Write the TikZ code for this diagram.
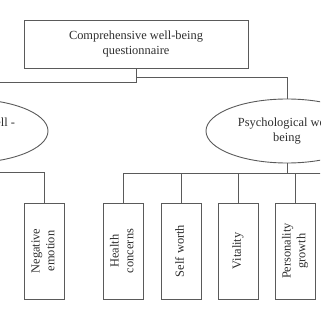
\documentclass[tikz,border=0pt]{standalone}
\usepackage{fontspec}
\setmainfont{Liberation Serif}
\usepackage{graphicx}
\usetikzlibrary{shapes.geometric}
\definecolor{linegray}{HTML}{5A5A5A}
\definecolor{textgray}{HTML}{2E2E2E}
\newcommand{\vtext}[1]{\rotatebox{90}{\begin{tabular}{@{}c@{}}#1\end{tabular}}}
\begin{document}
\begin{tikzpicture}[
    x=1pt, y=-1pt,
    every node/.style={font=\fontsize{12.4}{14.8}\selectfont, text=textgray},
    topbox/.style={rectangle, draw=linegray, line width=0.9pt, minimum width=224pt, minimum height=48pt, align=center, inner sep=0pt},
    oval/.style={ellipse, draw=linegray, line width=0.9pt, minimum width=162pt, minimum height=64pt, align=center, inner sep=0pt},
    item/.style={rectangle, draw=linegray, line width=0.9pt, minimum width=40pt, minimum height=96pt, inner sep=0pt},
    link/.style={draw=linegray, line width=0.9pt},
]
    \useasboundingbox (0,0) rectangle (320,320);
    \clip (0,0) rectangle (320,320);

    % Root
    \node[topbox] (root) at (136, 44) {Comprehensive well-being\\questionnaire};

    % Dimensions
    \node[oval] (subj) at (-33, 131) {\hspace*{12pt}Subjective well -\\being};
    \node[oval] (psy) at (287, 131) {Psychological well-\\being};

    % Sub-scales
    \node[item] (neg) at (44, 251) {\vtext{Negative\\emotion}};
    \node[item] (health) at (123, 251) {\vtext{Health\\concerns}};
    \node[item] (worth) at (181, 251) {\vtext{Self worth}};
    \node[item] (vital) at (238, 251) {\vtext{Vitality}};
    \node[item] (growth) at (295, 251) {\vtext{Personality\\growth}};
    \coordinate (more) at (340, 173);

    % Relationships
    \draw[link] (root.south) -- (136, 82) -| (subj.north);
    \draw[link] (136, 77) -| (psy.north);
    \draw[link] (subj.south) -- ++(0, 9) -| (neg.north);
    \draw[link] (psy.south) -- ++(0, 10) coordinate (hub);
    \draw[link] (health.north) |- (more);
    \draw[link] (worth.north) -- (worth.north |- hub);
    \draw[link] (vital.north) -- (vital.north |- hub);
    \draw[link] (growth.north) -- (growth.north |- hub);
\end{tikzpicture}
\end{document}
